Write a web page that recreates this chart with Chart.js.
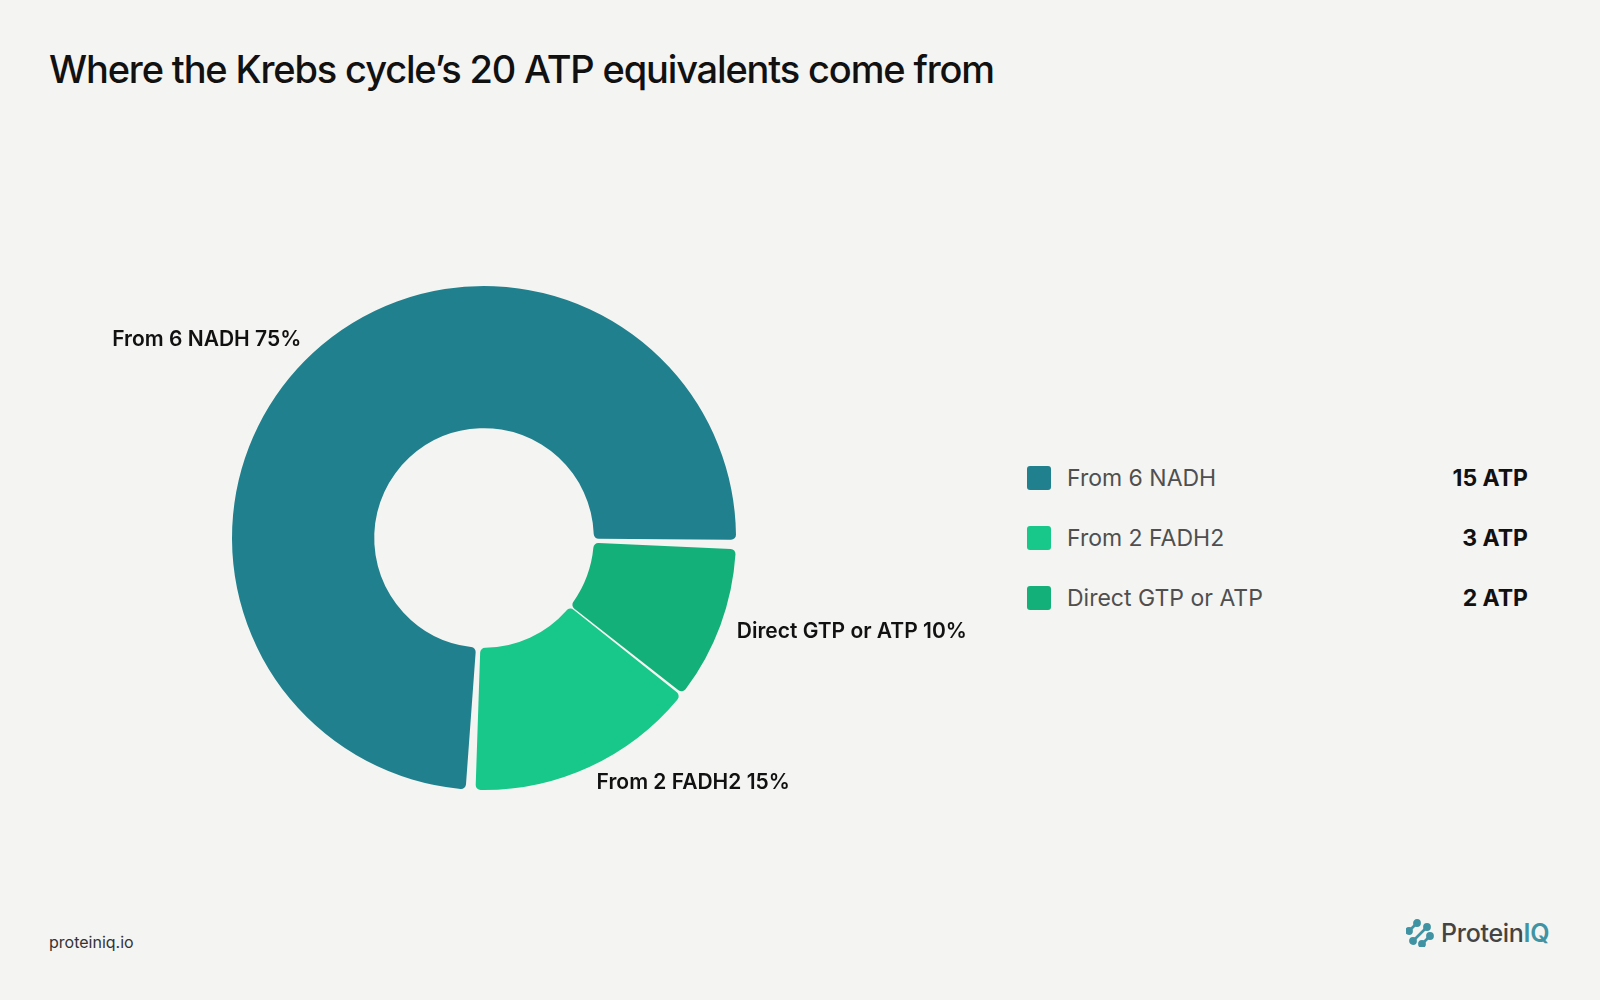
<!DOCTYPE html>
<html>
<head>
<meta charset="utf-8">
<script src="https://cdn.jsdelivr.net/npm/chart.js@4.4.1/dist/chart.umd.min.js"></script>
<style>
	html, body { margin: 0; padding: 0; }
	body {
		width: 1600px; height: 1000px; position: relative; overflow: hidden;
		background: #f4f4f2; font-family: Inter, 'Noto Sans', sans-serif; color: #111;
	}
	h1 {
		position: absolute; left: 49px; top: 50px; margin: 0;
		font-size: 38px; line-height: 38px; font-weight: 500; letter-spacing: -1.15px; color: #111;
	}
	#chartbox { position: absolute; left: 0; top: 150px; width: 968px; height: 776px; }
	#legend { position: absolute; left: 1027px; top: 454px; width: 501px; }
	.row { display: flex; align-items: center; height: 48px; margin-bottom: 12px; }
	.sw { width: 24px; height: 24px; border-radius: 3px; margin-right: 16px; flex: none; }
	.lab { font-size: 23px; color: #4f4f4f; flex: 1; }
	.val { font-size: 23px; font-weight: 700; color: #111; }
	#site { position: absolute; left: 49px; top: 932px; font-size: 16px; color: #333; }
	#logo { position: absolute; left: 1406px; top: 918px; display: flex; align-items: center; }
	#logo span { font-size: 25px; font-weight: 500; color: #444; letter-spacing: -0.3px; }
	#logo b { font-weight: 600; color: #3f93a3; }
</style>
</head>
<body>
<h1>Where the Krebs cycle’s 20 ATP equivalents come from</h1>
<div id="chartbox"><canvas id="chart"></canvas></div>
<div id="legend"></div>
<div id="site">proteiniq.io</div>
<div id="logo">
	<svg width="28" height="28" viewBox="0 0 28 28">
		<g stroke="#3f93a3" stroke-width="2.6" stroke-linecap="round" fill="#3f93a3">
			<line x1="3" y1="12" x2="11" y2="4" /><circle cx="3" cy="12" r="2.6" /><circle cx="11" cy="4" r="2.6" />
			<line x1="7" y1="22" x2="21" y2="8" /><circle cx="7" cy="22" r="2.6" /><circle cx="21" cy="8" r="2.6" />
			<line x1="16" y1="25" x2="24" y2="17" /><circle cx="16" cy="25" r="2.6" /><circle cx="24" cy="17" r="2.6" />
		</g>
	</svg>
	<span style="margin-left:7px">Protein<b>IQ</b></span>
</div>

<script>
// chart values
const sources = ['From 6 NADH', 'From 2 FADH2', 'Direct GTP or ATP']
const atpValues = [15, 3, 2]
const sharePct = [75, 15, 10]
const sliceColors = ['#21808d', '#18c78a', '#14b07a']

// legend on the right
document.getElementById('legend').innerHTML = sources
	.map((name, i) => `<div class="row">
		<div class="sw" style="background:${sliceColors[i]}"></div>
		<div class="lab">${name}</div>
		<div class="val">${atpValues[i]} ATP</div>
	</div>`)
	.join('')

// chart.js draws clockwise, the picture runs the other way, so flip the order
const order = [2, 1, 0]

const outsideLabels = {
	id: 'outsideLabels',
	afterDatasetsDraw(chart) {
		const { ctx } = chart
		const meta = chart.getDatasetMeta(0)
		ctx.save()
		ctx.font = '600 21px Inter, sans-serif'
		ctx.fillStyle = '#111'
		ctx.textBaseline = 'middle'
		meta.data.forEach((arc, i) => {
			const { x, y, startAngle, endAngle, outerRadius } = arc.getProps(['x', 'y', 'startAngle', 'endAngle', 'outerRadius'], true)
			const mid = (startAngle + endAngle) / 2
			const r = outerRadius + 20
			const px = x + Math.cos(mid) * r
			const py = y + Math.sin(mid) * r
			const k = order[i]
			ctx.textAlign = Math.cos(mid) >= 0 ? 'left' : 'right'
			ctx.fillText(`${sources[k]} ${sharePct[k]}%`, px, py)
		})
		ctx.restore()
	}
}

new Chart('chart', {
	type: 'doughnut',
	data: {
		labels: order.map((k) => sources[k]),
		datasets: [{
			data: order.map((k) => atpValues[k]),
			backgroundColor: order.map((k) => sliceColors[k]),
			borderWidth: 0,
			borderRadius: 5,
			spacing: 5
		}]
	},
	options: {
		responsive: true,
		maintainAspectRatio: false,
		animation: false,
		rotation: 92.3,
		cutout: '43%',
		layout: { padding: 136 },
		plugins: {
			legend: { display: false },
			tooltip: { enabled: false }
		}
	},
	plugins: [outsideLabels]
})
</script>
</body>
</html>
